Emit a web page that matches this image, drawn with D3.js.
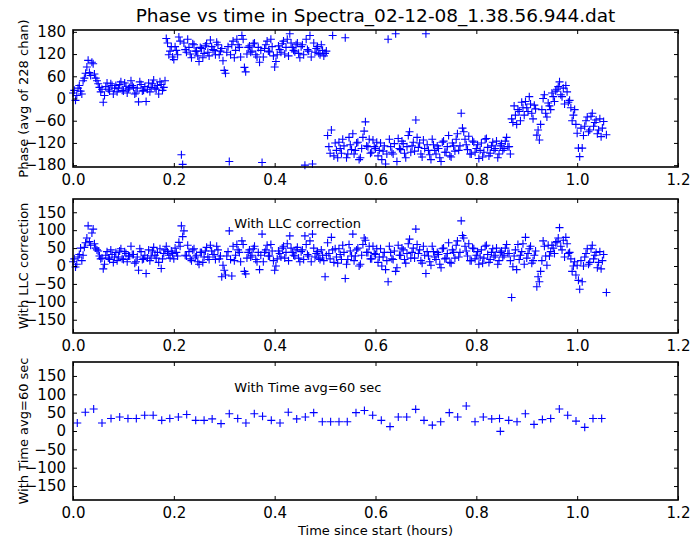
<!DOCTYPE html>
<html>
<head>
<meta charset="utf-8">
<script src="https://cdn.jsdelivr.net/npm/d3@7"></script>
<style>
	body { margin: 0; background: #fff; }
	svg { display: block; font-family: "DejaVu Sans", sans-serif; }
</style>
</head>
<body>
<svg id="fig" width="695" height="543"></svg>
<script>
// samples, hours since start
const timeHours = [
	0.000,0.005,0.010,0.015,0.020,0.025,0.030,0.035,0.040,0.045,
	0.050,0.055,0.060,0.065,0.070,0.075,0.080,0.085,0.090,0.095,
	0.100,0.105,0.110,0.115,0.120,0.125,0.130,0.135,0.140,0.145,
	0.150,0.155,0.160,0.165,0.170,0.175,0.180,0.185,0.190,0.195,
	0.200,0.205,0.210,0.215,0.220,0.225,0.230,0.235,0.240,0.245,
	0.250,0.255,0.260,0.265,0.270,0.275,0.280,0.285,0.290,0.295,
	0.300,0.305,0.310,0.315,0.320,0.325,0.330,0.335,0.340,0.345,
	0.350,0.355,0.360,0.365,0.370,0.375,0.380,0.385,0.390,0.395,
	0.400,0.405,0.410,0.415,0.420,0.425,0.430,0.435,0.440,0.445,
	0.450,0.455,0.460,0.465,0.470,0.475,0.480,0.485,0.490,0.495,
	0.500,0.505,0.510,0.515,0.520,0.525,0.530,0.535,0.540,0.545,
	0.550,0.555,0.560,0.565,0.570,0.575,0.580,0.585,0.590,0.595,
	0.600,0.605,0.610,0.615,0.620,0.625,0.630,0.635,0.640,0.645,
	0.650,0.655,0.660,0.665,0.670,0.675,0.680,0.685,0.690,0.695,
	0.700,0.705,0.710,0.715,0.720,0.725,0.730,0.735,0.740,0.745,
	0.750,0.755,0.760,0.765,0.770,0.775,0.780,0.785,0.790,0.795,
	0.800,0.805,0.810,0.815,0.820,0.825,0.830,0.835,0.840,0.845,
	0.850,0.855,0.860,0.865,0.870,0.875,0.880,0.885,0.890,0.895,
	0.900,0.905,0.910,0.915,0.920,0.925,0.930,0.935,0.940,0.945,
	0.950,0.955,0.960,0.965,0.970,0.975,0.980,0.985,0.990,0.995,
	1.000,1.005,1.010,1.015,1.020,1.025,1.030,1.035,1.040,1.045,
	1.050,1.058
];
// the in-between samples
const timeHoursMid = [
	0.0025,0.0075,0.0125,0.0175,0.0225,0.0275,0.0325,0.0375,0.0425,0.0475,
	0.0525,0.0575,0.0625,0.0675,0.0725,0.0775,0.0825,0.0875,0.0925,0.0975,
	0.1025,0.1075,0.1125,0.1175,0.1225,0.1275,0.1325,0.1375,0.1425,0.1475,
	0.1525,0.1575,0.1625,0.1675,0.1725,0.1775,0.1825,0.1875,0.1925,0.1975,
	0.2025,0.2075,0.2125,0.2175,0.2225,0.2275,0.2325,0.2375,0.2425,0.2475,
	0.2525,0.2575,0.2625,0.2675,0.2725,0.2775,0.2825,0.2875,0.2925,0.2975,
	0.3025,0.3075,0.3125,0.3175,0.3225,0.3275,0.3325,0.3375,0.3425,0.3475,
	0.3525,0.3575,0.3625,0.3675,0.3725,0.3775,0.3825,0.3875,0.3925,0.3975,
	0.4025,0.4075,0.4125,0.4175,0.4225,0.4275,0.4325,0.4375,0.4425,0.4475,
	0.4525,0.4575,0.4625,0.4675,0.4725,0.4775,0.4825,0.4875,0.4925,0.4975,
	0.5025,0.5075,0.5125,0.5175,0.5225,0.5275,0.5325,0.5375,0.5425,0.5475,
	0.5525,0.5575,0.5625,0.5675,0.5725,0.5775,0.5825,0.5875,0.5925,0.5975,
	0.6025,0.6075,0.6125,0.6175,0.6225,0.6275,0.6325,0.6375,0.6425,0.6475,
	0.6525,0.6575,0.6625,0.6675,0.6725,0.6775,0.6825,0.6875,0.6925,0.6975,
	0.7025,0.7075,0.7125,0.7175,0.7225,0.7275,0.7325,0.7375,0.7425,0.7475,
	0.7525,0.7575,0.7625,0.7675,0.7725,0.7775,0.7825,0.7875,0.7925,0.7975,
	0.8025,0.8075,0.8125,0.8175,0.8225,0.8275,0.8325,0.8375,0.8425,0.8475,
	0.8525,0.8575,0.8625,0.8675,0.8725,0.8775,0.8825,0.8875,0.8925,0.8975,
	0.9025,0.9075,0.9125,0.9175,0.9225,0.9275,0.9325,0.9375,0.9425,0.9475,
	0.9525,0.9575,0.9625,0.9675,0.9725,0.9775,0.9825,0.9875,0.9925,0.9975,
	1.0025,1.0075,1.0125,1.0175,1.0225,1.0275,1.0325,1.0375,1.0425,1.0475,
	1.0525
];

// phase in degrees, wrapped to +-180
const phaseRaw = [
	15,-5,28,20,48,68,103,62,94,55,
	40,18,-10,32,25,40,12,35,28,45,
	20,33,26,48,30,15,-9,38,22,-8,
	42,30,50,25,12,38,30,162,118,140,
	105,130,166,-152,150,125,138,110,145,128,
	100,135,122,148,115,140,130,152,118,135,
	76,125,-170,145,110,160,138,170,84,120,
	142,128,150,112,98,-173,135,155,126,140,
	85,118,132,148,120,160,175,138,126,150,
	110,145,-180,132,170,-177,125,140,118,130,
	122,-100,-148,170,-120,-160,-135,-110,164,-150,
	-125,-95,-140,-118,-160,-105,-63,-130,-148,-112,
	-135,-155,-120,-142,-177,160,-130,-150,175,-108,
	-138,-122,-160,-100,-145,-118,-58,-132,-150,-112,
	175,-140,-165,-125,-150,-135,-170,-115,-145,-100,
	-158,-128,-110,-140,-40,-90,-125,-102,-150,-118,
	-135,-162,-120,-145,-108,-155,-128,-140,-115,-150,
	-122,-135,-105,-130,-55,-20,-70,-35,-10,-45,
	-25,5,-40,-18,-99,-112,-30,10,-50,-20,
	15,-8,25,45,5,-15,18,-5,-60,-30,
	-94,-157,-134,-75,-50,-85,-40,-65,-95,-55,
	-80,-98
];
const phaseRawMid = [
	22,8,35,12,55,85,70,98,66,48,
	30,25,8,42,20,35,28,18,38,22,
	42,15,30,35,12,28,45,20,32,25,
	18,40,28,35,45,22,48,150,128,112,
	140,118,155,-178,132,160,120,148,128,115,
	138,110,142,125,158,132,118,145,128,102,
	68,140,118,155,130,145,112,160,72,138,
	125,148,118,138,130,112,145,128,160,115,
	100,142,125,155,138,115,150,130,145,122,
	140,118,160,128,112,150,135,122,145,115,
	128,-130,-85,-155,-140,-118,-148,-128,-160,-105,
	-138,-150,-120,-165,-135,-88,-128,-110,-145,-130,
	-118,-140,-165,-128,-150,-110,-145,-122,-170,-135,
	-115,-148,-130,-90,-128,-142,-105,-120,-158,-135,
	-125,-152,-110,-140,-128,-160,-118,-145,-130,-155,
	-120,-142,-95,-128,-80,-110,-138,-150,-115,-145,
	-125,-140,-158,-110,-132,-148,-118,-135,-160,-128,
	-140,-115,-130,-150,-65,-45,-30,-60,-25,-8,
	-35,-15,-55,-28,-85,-70,0,-40,-12,-30,
	5,20,32,10,28,35,-10,-25,-45,-70,
	-134,-80,-100,-60,-90,-48,-75,-58,-85,-103,
	-62
];

// same samples after the LLC correction
const phaseLLC = [
	12,-3,25,50,30,65,112,58,103,50,
	42,20,-8,30,22,45,10,38,25,48,
	18,35,28,55,32,12,-12,40,20,-21,
	45,28,52,22,10,-7,35,55,30,42,
	20,38,66,112,98,28,40,15,48,30,
	5,38,25,52,18,42,32,55,20,-30,
	-12,28,98,-28,15,60,38,70,-15,22,
	45,30,55,12,-10,89,38,58,28,42,
	-12,20,35,50,22,62,84,38,28,52,
	12,45,84,32,70,89,25,40,18,30,
	-30,65,20,45,48,8,32,58,-35,18,
	42,89,28,50,5,60,72,38,20,55,
	32,10,48,25,-10,-44,38,18,-15,58,
	30,45,8,62,22,50,103,35,15,55,
	-21,28,2,40,18,32,-5,50,22,65,
	8,38,58,25,126,78,42,62,15,48,
	30,5,45,22,58,10,38,25,50,15,
	42,30,60,35,-88,28,-10,18,40,5,
	22,48,8,30,-58,-44,15,55,2,28,
	58,35,68,107,45,25,62,38,-15,12,
	2,-65,-44,25,48,10,58,30,-5,40,
	15,-74
];
const phaseLLCMid = [
	20,5,32,15,52,78,68,92,62,45,
	28,22,5,40,18,32,25,15,42,20,
	40,12,28,32,8,25,48,18,30,22,
	15,42,30,38,48,20,45,40,22,35,
	50,28,55,82,30,58,20,45,25,12,
	38,10,42,25,58,32,18,45,28,2,
	-25,40,18,55,30,45,12,60,-22,38,
	25,48,18,38,30,12,45,28,60,15,
	0,42,25,55,38,15,50,30,45,22,
	40,18,60,28,12,50,35,22,45,15,
	30,35,80,10,25,48,18,38,5,60,
	28,15,45,0,30,78,38,55,20,35,
	48,25,0,38,15,55,20,42,-5,30,
	50,18,35,75,38,22,60,45,8,30,
	40,12,55,25,38,5,48,20,35,10,
	45,22,70,38,85,55,28,15,50,20,
	40,25,8,55,32,18,48,30,5,38,
	25,50,35,15,-2,45,60,30,62,80,
	35,55,15,42,-30,-15,70,28,58,40,
	50,65,78,55,72,80,35,20,0,-25,
	-40,15,0,35,5,48,20,38,10,-8,
	32
];

// 60 second averages
const avgTime = [
	0.0085,0.0244,0.041,0.0575,0.0754,0.0926,0.109,0.1256,0.1422,0.159,
	0.176,0.192,0.209,0.2255,0.2434,0.26,0.276,0.2936,0.31,0.3267,
	0.343,0.3596,0.376,0.3933,0.4106,0.427,0.4437,0.4608,0.4774,0.4945,
	0.511,0.5276,0.544,0.5613,0.578,0.5944,0.6115,0.6288,0.6452,0.6619,
	0.6797,0.6962,0.7127,0.7293,0.7464,0.763,0.78,0.7974,0.8138,0.8305,
	0.846,0.8476,0.8642,0.8807,0.8972,0.9144,0.931,0.9475,0.9646,0.9812,
	0.9977,1.015,1.0314,1.0486
];
const avgPhase = [
	22,51,60,22,34,38,34,34,43,43,
	29,34,38,45,29,29,33,20,47,34,
	22,47,40,29,22,51,33,38,50,25,
	25,25,25,50,56,43,29,12,38,38,
	59,29,16,25,50,38,68,25,38,33,
	34,-1,29,25,47,18,31,34,60,43,
	27,10,34,34
];

const xTicks = [0, 0.2, 0.4, 0.6, 0.8, 1.0, 1.2];
const phaseTicks = [-180, -120, -60, 0, 60, 120, 180];
const degTicks = [-150, -100, -50, 0, 50, 100, 150];

const titleText = "Phase vs time in Spectra_02-12-08_1.38.56.944.dat";
const xLabelText = "Time since start (hours)";

const svg = d3.select("#fig");
svg.append("rect").attr("width", 695).attr("height", 543).attr("fill", "#fff");

const left = 73, right = 678;
const x = d3.scaleLinear().domain([0, 1.2]).range([left, right]);

const allTimes = timeHours.concat(timeHoursMid);

const panels = [
	{ top: 30, bottom: 167, lim: 185, ticks: phaseTicks,
		xs: allTimes, ys: phaseRaw.concat(phaseRawMid),
		ylabel: "Phase (avg of 228 chan)" },
	{ top: 199, bottom: 333, lim: 187, ticks: degTicks,
		xs: allTimes, ys: phaseLLC.concat(phaseLLCMid),
		ylabel: "With LLC correction", note: "With LLC correction" },
	{ top: 362, bottom: 500, lim: 188, ticks: degTicks, xs: avgTime, ys: avgPhase,
		ylabel: "With Time avg=60 sec", note: "With Time avg=60 sec" }
];

panels.forEach(p => {
	const y = d3.scaleLinear().domain([-p.lim, p.lim]).range([p.bottom, p.top]);
	const g = svg.append("g");

	// '+' markers, drawn before the frame
	g.append("g")
		.selectAll("path")
		.data(d3.zip(p.xs, p.ys))
		.join("path")
		.attr("d", d => {
			const px = x(d[0]), py = y(d[1]);
			return `M${px - 4},${py}h8M${px},${py - 4}v8`;
		})
		.attr("stroke", "#0000ff")
		.attr("stroke-width", 1.1)
		.attr("fill", "none");

	const fmt = d3.format(".1f");
	const axes = [
		[d3.axisBottom(x).tickValues(xTicks).tickFormat(fmt), `translate(0,${p.bottom})`],
		[d3.axisTop(x).tickValues(xTicks).tickFormat(""), `translate(0,${p.top})`],
		[d3.axisLeft(y).tickValues(p.ticks).tickFormat(d3.format("d")), `translate(${left},0)`],
		[d3.axisRight(y).tickValues(p.ticks).tickFormat(""), `translate(${right},0)`]
	];
	axes.forEach(([ax, tr]) => {
		const a = g.append("g")
			.attr("transform", tr)
			.call(ax.tickSizeInner(-4).tickSizeOuter(0).tickPadding(7));
		a.select(".domain").remove();
		a.selectAll("line").attr("stroke", "#000").attr("stroke-width", 1);
		a.selectAll("text")
			.attr("fill", "#000")
			.style("font-family", "DejaVu Sans, sans-serif")
			.style("font-size", "15px");
	});

	g.append("rect")
		.attr("x", left).attr("y", p.top)
		.attr("width", right - left).attr("height", p.bottom - p.top)
		.attr("fill", "none").attr("stroke", "#000").attr("stroke-width", 1.6);

	g.append("text")
		.attr("transform", `translate(23,${(p.top + p.bottom) / 2}) rotate(-90)`)
		.attr("text-anchor", "middle")
		.attr("dy", "0.35em")
		.style("font-size", "13px")
		.text(p.ylabel);

	if (p.note) {
		g.append("text")
			.attr("x", x(0.32)).attr("y", y(105))
			.style("font-size", "13px")
			.text(p.note);
	}
});

svg.append("text")
	.attr("x", (left + right) / 2).attr("y", 22)
	.attr("text-anchor", "middle")
	.style("font-size", "18.5px")
	.text(titleText);

svg.append("text")
	.attr("x", (left + right) / 2).attr("y", 535)
	.attr("text-anchor", "middle")
	.style("font-size", "13px")
	.text(xLabelText);
</script>
</body>
</html>
